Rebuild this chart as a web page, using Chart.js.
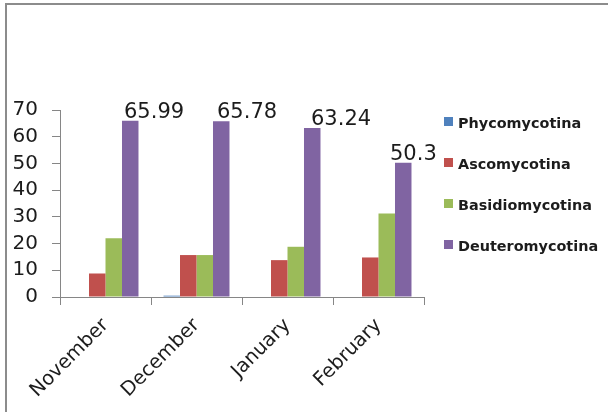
<!DOCTYPE html>
<html>
<head>
<meta charset="utf-8">
<script src="https://cdn.jsdelivr.net/npm/chart.js@4.4.1/dist/chart.umd.min.js"></script>
<style>
  html, body { margin: 0; padding: 0; background: #fff; overflow: hidden; }
  #wrap { position: absolute; left: 0; top: 0; width: 608px; height: 412px; overflow: hidden; }
  .edge { position: absolute; background: #8c8c8c; }
  #edgeTop { left: 5px; top: 3px; width: 603px; height: 2px; }
  #edgeLeft { left: 5px; top: 3px; width: 2px; height: 409px; }
  canvas { position: absolute; left: 0; top: 0; }
</style>
</head>
<body>
<div id="wrap">
  <div class="edge" id="edgeTop"></div>
  <div class="edge" id="edgeLeft"></div>
  <canvas id="fungiChart" width="608" height="412"></canvas>
</div>
<script>
/* =====================================================
   DATA
===================================================== */
const months = ["November", "December", "January", "February"];
const seriesNames = ["Phycomycotina", "Ascomycotina", "Basidiomycotina", "Deuteromycotina"];
const phycomycotina = [0, 0.5, 0, 0];
const ascomycotina = [8.8, 15.7, 13.8, 14.8];
const basidiomycotina = [22, 15.7, 18.8, 31.3];
const deuteromycotina = [65.99, 65.78, 63.24, 50.3];
const yTicks = [0, 10, 20, 30, 40, 50, 60, 70];

const colors = ["#4F81BD", "#C0504D", "#9BBB59", "#8064A2"];
const axisGray = "#868686";
const textColor = "#1c1c1c";

/* =====================================================
   PLUGINS
===================================================== */
// value labels above the Deuteromycotina bars (left-aligned, Excel style)
const labelNudge = [2, 4, 7, -5];
const valueLabels = {
  id: "valueLabels",
  afterDatasetsDraw(chart) {
    const ctx = chart.ctx;
    const meta = chart.getDatasetMeta(3);
    ctx.save();
    ctx.font = "21px 'DejaVu Sans'";
    ctx.fillStyle = textColor;
    ctx.textAlign = "left";
    ctx.textBaseline = "alphabetic";
    meta.data.forEach((bar, i) => {
      const v = chart.data.datasets[3].data[i];
      ctx.fillText(String(v), bar.x - bar.width / 2 + labelNudge[i], bar.y - 3);
    });
    ctx.restore();
  }
};

// legend on the right: small squares + bold names
const sideLegend = {
  id: "sideLegend",
  afterDraw(chart) {
    const ctx = chart.ctx;
    ctx.save();
    ctx.font = "bold 14.4px 'DejaVu Sans'";
    ctx.textBaseline = "alphabetic";
    chart.data.datasets.forEach((ds, i) => {
      const y = 117 + i * 41;
      ctx.fillStyle = ds.backgroundColor;
      ctx.fillRect(444, y, 9, 9);
      ctx.fillStyle = textColor;
      ctx.fillText(ds.label, 458, y + 11);
    });
    ctx.restore();
  }
};

/* =====================================================
   CHART
===================================================== */
const seriesData = [phycomycotina, ascomycotina, basidiomycotina, deuteromycotina];

new Chart(document.getElementById("fungiChart"), {
  type: "bar",
  data: {
    labels: months,
    datasets: seriesNames.map((name, i) => ({
      label: name,
      data: seriesData[i],
      backgroundColor: colors[i],
      borderWidth: 0,
      categoryPercentage: 0.725,
      barPercentage: 1
    }))
  },
  options: {
    responsive: false,
    animation: false,
    layout: { padding: { left: 12, right: 184, top: 110, bottom: 0 } },
    plugins: {
      legend: { display: false },
      tooltip: { enabled: false }
    },
    scales: {
      x: {
        grid: {
          display: true,
          drawOnChartArea: false,
          offset: true,
          color: axisGray,
          tickLength: 8
        },
        border: { color: axisGray, width: 1 },
        ticks: {
          color: textColor,
          font: { family: "DejaVu Sans", size: 19.5 },
          minRotation: 45,
          maxRotation: 45,
          padding: 9
        },
        afterFit(scale) { scale.height = 115; }
      },
      y: {
        min: 0,
        max: 70,
        afterBuildTicks(scale) { scale.ticks = yTicks.map(v => ({ value: v })); },
        grid: {
          display: true,
          drawOnChartArea: false,
          color: axisGray,
          tickLength: 8
        },
        border: { color: axisGray, width: 1 },
        ticks: {
          color: textColor,
          autoSkip: false,
          font: { family: "DejaVu Sans", size: 20 },
          padding: 14
        },
        afterFit(scale) { scale.width = 48; }
      }
    }
  },
  plugins: [valueLabels, sideLegend]
});
</script>
</body>
</html>
